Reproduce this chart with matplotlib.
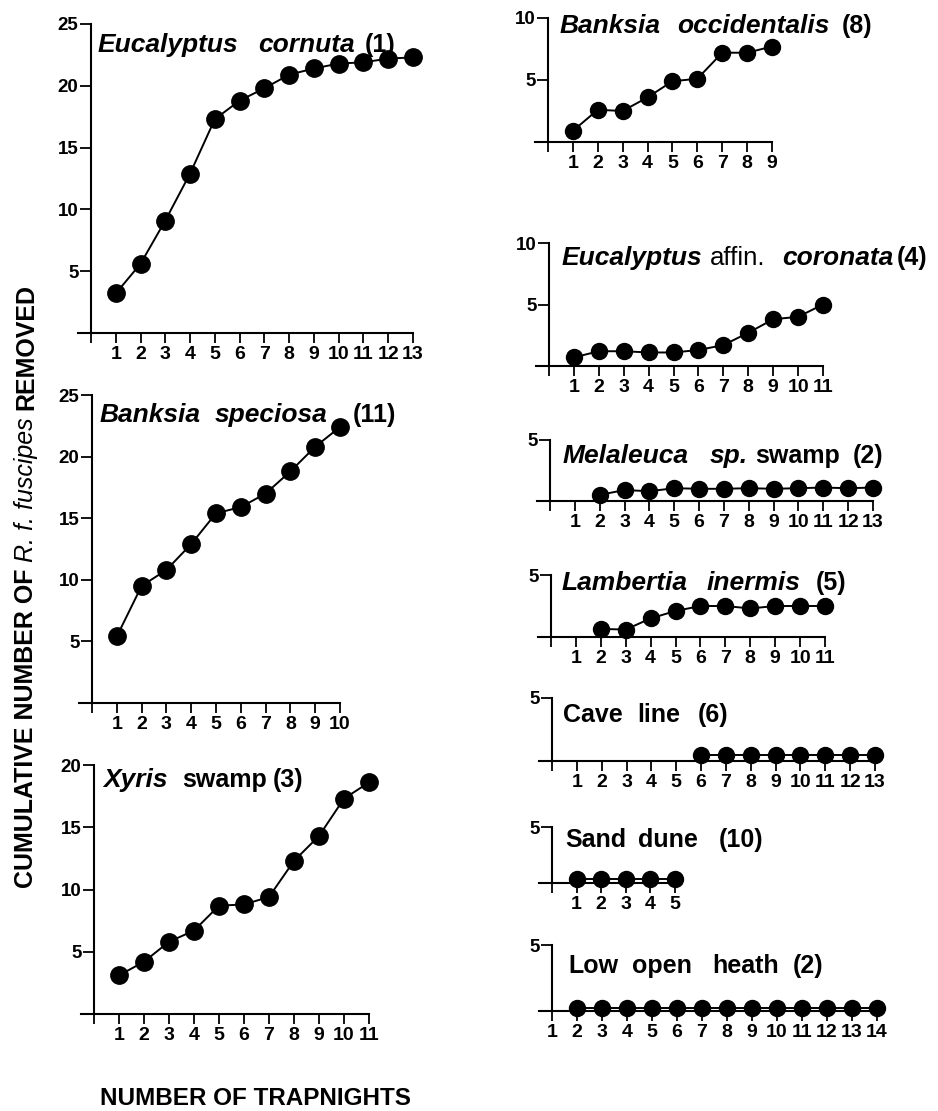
import matplotlib
matplotlib.use('Agg')
import matplotlib.pyplot as plt

W, H = 938, 1111
plt.rcParams['font.family'] = ['Liberation Sans', 'DejaVu Sans']

# ---------------- data (cumulative number removed per trapnight) ----------------
ec_nights = [1, 2, 3, 4, 5, 6, 7, 8, 9, 10, 11, 12, 13]
ec_vals = [3.2, 5.6, 9.1, 12.9, 17.3, 18.8, 19.8, 20.9, 21.4, 21.8, 21.9, 22.2, 22.3]

bs_nights = [1, 2, 3, 4, 5, 6, 7, 8, 9, 10]
bs_vals = [5.4, 9.5, 10.8, 12.9, 15.4, 15.9, 17.0, 18.8, 20.8, 22.4]

xy_nights = [1, 2, 3, 4, 5, 6, 7, 8, 9, 10, 11]
xy_vals = [3.1, 4.2, 5.8, 6.7, 8.7, 8.8, 9.4, 12.3, 14.3, 17.3, 18.6]

bo_nights = [1, 2, 3, 4, 5, 6, 7, 8, 9]
bo_vals = [0.9, 2.6, 2.5, 3.6, 4.9, 5.1, 7.2, 7.2, 7.7]

ea_nights = [1, 2, 3, 4, 5, 6, 7, 8, 9, 10, 11]
ea_vals = [0.7, 1.2, 1.2, 1.1, 1.1, 1.3, 1.7, 2.7, 3.8, 4.0, 5.0]

ml_nights = [2, 3, 4, 5, 6, 7, 8, 9, 10, 11, 12, 13]
ml_vals = [0.5, 0.9, 0.8, 1.05, 1.0, 1.0, 1.05, 1.0, 1.05, 1.1, 1.05, 1.1]

li_nights = [2, 3, 4, 5, 6, 7, 8, 9, 10, 11]
li_vals = [0.65, 0.6, 1.5, 2.1, 2.5, 2.5, 2.3, 2.5, 2.5, 2.5]

cl_nights = [6, 7, 8, 9, 10, 11, 12, 13]
cl_vals = [0.5, 0.5, 0.5, 0.5, 0.5, 0.5, 0.5, 0.5]

sd_nights = [1, 2, 3, 4, 5]
sd_vals = [0.35, 0.35, 0.35, 0.35, 0.35]

lh_nights = [2, 3, 4, 5, 6, 7, 8, 9, 10, 11, 12, 13, 14]
lh_vals = [0.2, 0.2, 0.2, 0.2, 0.2, 0.2, 0.2, 0.2, 0.2, 0.2, 0.2, 0.2, 0.2]

BI = dict(fontweight='bold', fontstyle='italic', fontsize=19)
B = dict(fontweight='bold', fontsize=18)
R = dict(fontweight='normal', fontsize=18.5)

fig = plt.figure(figsize=(W / 100, H / 100), dpi=100)


def fx(px):
    return px / W


def fy(py):
    return 1 - py / H


def panel(yaxis_px, y0_px, last_px, ytop_px, x0, last, ytop, yticks,
          nights, vals, ms, title):
    ext = 13
    dx = (last_px - yaxis_px) / (last - x0)
    left_px = yaxis_px - ext
    ax = fig.add_axes([fx(left_px), fy(y0_px), (last_px - left_px) / W,
                       (y0_px - ytop_px) / H])
    ax.set_xlim(x0 - ext / dx, last)
    ax.set_ylim(0, ytop)
    ax.patch.set_visible(False)
    for s in ('top', 'right'):
        ax.spines[s].set_visible(False)
    ax.spines['left'].set_position(('data', x0))
    ax.spines['left'].set_linewidth(1.5)
    ax.spines['bottom'].set_linewidth(1.5)
    xt = list(range(x0, last + 1))
    xl = [str(v) if (v != 0) else '' for v in xt]
    ax.set_xticks(xt)
    ax.set_xticklabels(xl, fontsize=14, fontweight='bold')
    ax.set_yticks(yticks)
    ax.set_yticklabels([str(v) for v in yticks], fontsize=13.5, fontweight='bold')
    ax.tick_params(axis='x', direction='out', length=7.5, width=1.3, pad=2)
    ax.tick_params(axis='y', direction='out', length=8, width=1.3, pad=1)
    ax.plot(nights, vals, '-', color='black', lw=1.4, marker='o', ms=ms,
            mfc='black', mec='black', clip_on=False, zorder=3)
    for word, xpx, ypx, style in title:
        fig.text(fx(xpx), fy(ypx), word, ha='left', va='baseline', **style)
    return ax


# left column
panel(91, 333, 413, 24, 0, 13, 25, [5, 10, 15, 20, 25], ec_nights, ec_vals, 12.5,
      [('Eucalyptus', 98, 52, BI), ('cornuta', 258, 52, BI), ('(1)', 365, 52, B)])
panel(92, 703, 340, 395, 0, 10, 25, [5, 10, 15, 20, 25], bs_nights, bs_vals, 12.5,
      [('Banksia', 100, 422, BI), ('speciosa', 215, 422, BI), ('(11)', 353, 422, B)])
panel(94, 1014, 369, 765, 0, 11, 20, [5, 10, 15, 20], xy_nights, xy_vals, 12.5,
      [('Xyris', 103, 787, BI), ('swamp', 182, 787, B), ('(3)', 273, 787, B)])

# right column
panel(548, 142, 772, 18, 0, 9, 10, [5, 10], bo_nights, bo_vals, 11.5,
      [('Banksia', 560, 33, BI), ('occidentalis', 677, 33, BI), ('(8)', 842, 33, B)])
panel(549, 366, 823, 243, 0, 11, 10, [5, 10], ea_nights, ea_vals, 11.5,
      [('Eucalyptus', 562, 265, BI), ('affin.', 710, 265, R),
       ('coronata', 782, 265, BI), ('(4)', 897, 265, B)])
panel(550, 501, 873, 440, 0, 13, 5, [5], ml_nights, ml_vals, 11.5,
      [('Melaleuca', 563, 463, BI), ('sp.', 710, 463, BI), ('swamp', 755, 463, B),
       ('(2)', 853, 463, B)])
panel(551, 637, 825, 575, 0, 11, 5, [5], li_nights, li_vals, 11.5,
      [('Lambertia', 562, 590, BI), ('inermis', 707, 590, BI), ('(5)', 816, 590, B)])
panel(552, 761, 875, 698, 0, 13, 5, [5], cl_nights, cl_vals, 11.5,
      [('Cave', 563, 722, B), ('line', 637, 722, B), ('(6)', 698, 722, B)])
panel(552, 883, 675, 827, 0, 5, 5, [5], sd_nights, sd_vals, 11.5,
      [('Sand', 565, 847, B), ('dune', 638, 847, B), ('(10)', 719, 847, B)])
panel(552, 1011, 877, 945, 1, 14, 5, [5], lh_nights, lh_vals, 11.5,
      [('Low', 568, 973, B), ('open', 632, 973, B), ('heath', 712, 973, B),
       ('(2)', 793, 973, B)])

# axis labels
fig.text(fx(255), fy(1105), 'NUMBER OF TRAPNIGHTS', ha='center', va='baseline',
         fontsize=17.5, fontweight='bold')

renderer = fig.canvas.get_renderer()
ypos = 888
for txt, style in [('CUMULATIVE NUMBER OF', B), ('R. f. fuscipes', dict(fontstyle='italic', fontsize=18)),
                   ('REMOVED', B)]:
    t = fig.text(fx(33), fy(ypos), txt, rotation=90, rotation_mode='anchor',
                 ha='left', va='baseline', **style)
    bb = t.get_window_extent(renderer)
    ypos -= bb.height + 7

fig.savefig('out.png', dpi=100)
